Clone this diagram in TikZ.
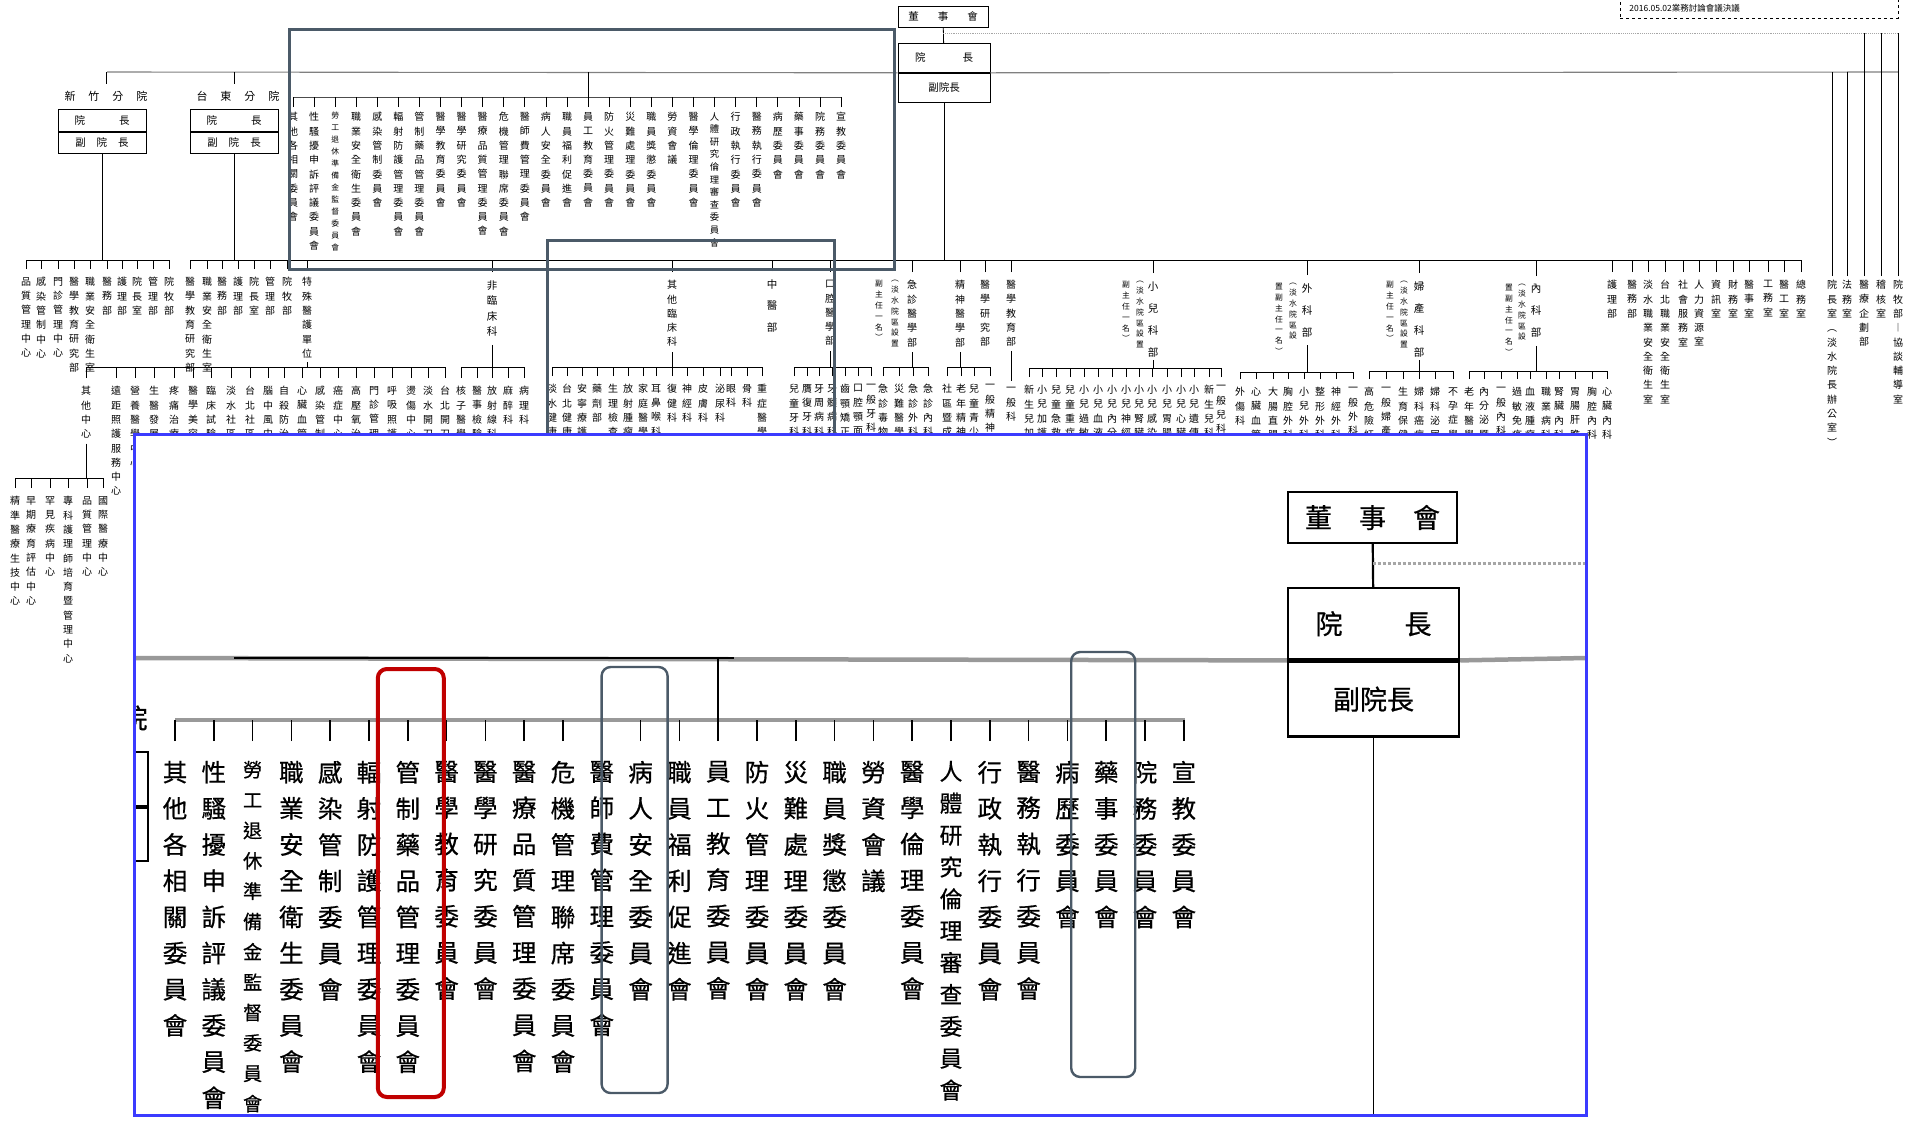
\documentclass[tikz,border=0pt]{standalone}
\usepackage{fontspec}
\setmainfont{Noto Sans CJK TC}
\newfontfamily\zoomfont[FakeBold=0.6]{Noto Sans CJK TC}
\usetikzlibrary{calc}
\definecolor{slate}{HTML}{4B5A68}
\definecolor{zoomblue}{HTML}{3B3BFF}
\definecolor{markred}{HTML}{C00000}
\def\vtaux#1#2{#1\ifx\relax#2\expandafter\vtstop\else\expandafter\vtgo\fi{#2}}
\def\vtstop#1{}
\def\vtgo#1{\\\vtaux#1}
\newcommand\vt[1]{\expandafter\vtaux#1\relax}
\newcommand\cmtlist{%
其他各相關委員會/10/14.3,性騷擾申訴評議委員會/10/14.3,勞工退休準備金監督委員會/7.8/12,%
職業安全衛生委員會/10/14.3,感染管制委員會/10/14.3,輻射防護管理委員會/10/14.3,%
管制藥品管理委員會/10/14.3,醫學教育委員會/10/14.3,醫學研究委員會/10/14.3,%
醫療品質管理委員會/10/14.3,危機管理聯席委員會/10/14.3,醫師費管理委員會/10/14.3,%
病人安全委員會/10/14.3,職員福利促進會/10/14.3,員工教育委員會/10/14.3,%
防火管理委員會/10/14.3,災難處理委員會/10/14.3,職員獎懲委員會/10/14.3,%
勞資會議/10/14.3,醫學倫理委員會/10/14.3,人體研究倫理審查委員會/9.3/12.6,%
行政執行委員會/10/14.3,醫務執行委員會/10/14.3,病歷委員會/10/14.3,%
藥事委員會/10/14.3,院務委員會/10/14.3,宣教委員會/10/14.3}

\begin{document}
\begin{tikzpicture}[x=1pt,y=-1pt,line width=0.8pt,
  lab/.style={anchor=north,align=center,inner sep=0pt,font=\fontsize{10}{14.3}\selectfont},
  wide/.style={lab,font=\fontsize{10.5}{22}\selectfont},
  note/.style={lab,font=\fontsize{7.8}{10.8}\selectfont},
  box/.style={draw,line width=0.8pt,inner sep=0pt,font=\fontsize{10.5}{12}\selectfont},
  drop/.style={shorten <=#1},drop/.default=8pt,
  steel/.style={draw=slate,line width=3pt},
  grayline/.style={line width=1.1pt,black!50},
  dotline/.style={line width=0.9pt,black!35,densely dotted},
  bbox/.style={draw,line width=2.4pt,inner sep=0pt,font=\zoomfont\fontsize{27}{30}\selectfont},
  blab/.style={anchor=north,align=center,inner sep=0pt},
  igray/.style={line width=4.5pt,black!40},
  idot/.style={line width=3pt,black!35,dotted},
  hilite/.style={line width=2.4pt,slate,rounded corners=9pt}]
\useasboundingbox (0,0) rectangle (1921,1120);

\node[draw,dashed,minimum width=278,minimum height=24,inner sep=0pt] (date) at (1759,6) {};
\node[font=\fontsize{8.5}{10}\selectfont,anchor=west,inner sep=0pt] (datetx) at (1629,8) {2016.05.02業務討論會議決議};

\coordinate (dotR) at (1898,33);
\coordinate (grayL) at (107,72);
\coordinate (grayR) at (1898,72);
\coordinate (mainL) at (190,260);
\coordinate (mainR) at (1802,260);

\node[box,minimum width=90,minimum height=21] (brd) at (943,16.5) {董\hspace{19pt}事\hspace{19pt}會};
\node[box,minimum width=92,minimum height=29,anchor=north] (pres) at (944,43) {院\hspace{37pt}長};
\node[box,minimum width=92,minimum height=29,anchor=north] (vp) at (pres.south) {副院長};
\draw (brd) -- (pres);
\draw[dotline] (brd.south |- dotR) -- (dotR);
\draw[grayline] (grayL) -- (pres.south west);
\draw[grayline] (pres.south east) -- (grayR);
\draw (vp) -- (vp.south |- mainL);
\draw (mainL) -- (mainR);

% branch hospitals
\node[font=\fontsize{11}{12}\selectfont,inner sep=0pt] (hcn) at (106,96) {新\hspace{13pt}竹\hspace{13pt}分\hspace{13pt}院};
\node[box,minimum width=88,minimum height=22,anchor=north] (hcb1) at (102,109) {院\hspace{34pt}長};
\node[box,minimum width=88,minimum height=21,anchor=north] (hcb2) at (hcb1.south) {副\hspace{11pt}院\hspace{11pt}長};
\draw[shorten >=6pt] (hcn.north |- grayL) -- (hcn.north);
\coordinate (hcL) at (26,260);
\coordinate (hcR) at (169,260);
\draw (hcb2) -- (hcb2.south |- hcL);
\draw (hcL) -- (hcR);
\foreach \x/\lab [count=\n] in {26/品質管理中心,41/感染管制中心,58/門診管理中心,74/醫學教育研究部,90/職業安全衛生室,107/醫務部,122/護理部,137/院長室,153/管理部,169/院牧部}
  {\node[lab] (hcu\n) at (\x,277) {\vt\lab};
   \draw[drop] (hcu\n.north) -- (hcu\n.north |- hcL);}

\node[font=\fontsize{11}{12}\selectfont,inner sep=0pt] (tdn) at (238,96) {台\hspace{13pt}東\hspace{13pt}分\hspace{13pt}院};
\node[box,minimum width=88,minimum height=22,anchor=north] (tdb1) at (234,109) {院\hspace{34pt}長};
\node[box,minimum width=88,minimum height=21,anchor=north] (tdb2) at (tdb1.south) {副\hspace{11pt}院\hspace{11pt}長};
\draw[shorten >=6pt] (tdb1.north |- grayL) -- (tdb1.north |- tdn.north);
\draw (tdb2) -- (tdb2.south |- mainL);
\foreach \x/\lab [count=\n] in {190/醫學教育研究部,207/職業安全衛生室,222/醫務部,238/護理部,254/院長室,270/管理部,287/院牧部}
  {\node[lab] (tdu\n) at (\x,277) {\vt\lab};
   \draw[drop] (tdu\n.north) -- (tdu\n.north |- mainL);}

% committees
\coordinate (cbL) at (293,97);
\coordinate (cbR) at (841,97);
\draw[black!70] (cbL) -- (cbR);
\foreach \lab/\fs/\ls [count=\n] in \cmtlist
  {\node[lab,font=\fontsize{\fs}{\ls}\selectfont] (c\n) at ({293+21.08*(\n-1)},112) {\vt\lab};
   \draw[drop=5pt] (c\n.north) -- (c\n.north |- cbL);}
\draw (c15.north |- grayL) -- (c15.north |- cbL);

% special units
\node[lab] (spc) at (307,277) {\vt{特殊醫護單位}};
\draw[drop] (spc.north) -- (spc.north |- mainL);
\coordinate (spcL) at (86,367);
\coordinate (spcR) at (445,367);
\draw[shorten <=4pt] (spc.south) -- (spc.south |- spcL);
\draw (spcL) -- (spcR);
\foreach \x/\lab [count=\n] in {86/其他中心,116/遠距照護服務中心,135/營養醫學中心,154/生醫發展中心,174/疼痛治療中心,193/醫學美容中心,211/臨床試驗中心,231/淡水社區醫學中心,250/台北社區醫學中心,268/腦中風中心,284/自殺防治中心,302/心臟血管中心,320/感染管制中心,338/癌症中心,356/高壓氧治療中心,374/門診管理中心,392/呼吸照護中心,411/燙傷中心,428/淡水開刀房,445/台北開刀房}
  {\node[lab] (spc\n) at (\x,386) {\vt\lab};
   \draw[drop] (spc\n.north) -- (spc\n.north |- spcL);}
\coordinate (othL) at (15,478);
\coordinate (othR) at (103,478);
\draw[shorten <=5pt] (spc1.south) -- (spc1.south |- othL);
\draw (othL) -- (othR);
\foreach \x/\lab [count=\n] in {15/精準醫療生技中心,31/早期療育評估中心,50/罕見疾病中心,68/專科護理師培育暨管理中心,87/品質管理中心,103/國際醫療中心}
  {\node[lab] (oth\n) at (\x,496) {\vt\lab};
   \draw[drop] (oth\n.north) -- (oth\n.north |- othL);}

% clinical departments
\node[lab,font=\fontsize{10.5}{15.5}\selectfont] (ncl) at (492,280) {\vt{非臨床科}};
\draw[drop] (ncl.north) -- (ncl.north |- mainL);
\coordinate (nclL) at (461,367);
\coordinate (nclR) at (524,367);
\draw[shorten <=8pt] (ncl.south) -- (ncl.south |- nclL);
\draw (nclL) -- (nclR);
\foreach \x/\lab [count=\n] in {461/核子醫學科,477/醫事檢驗科,492/放射線科,508/麻醉科,524/病理科}
  {\node[lab] (ncl\n) at (\x,386) {\vt\lab};
   \draw[drop] (ncl\n.north) -- (ncl\n.north |- nclL);}

\node[lab] (ocl) at (672,280) {\vt{其他臨床科}};
\draw[drop] (ocl.north) -- (ocl.north |- mainL);
\coordinate (oclL) at (552,367);
\coordinate (oclR) at (762,367);
\draw[shorten <=5pt] (ocl.south) -- (ocl.south |- oclL);
\draw (oclL) -- (oclR);
\foreach \x/\lab [count=\n] in {552/淡水健康管理中心,567/台北健康管理中心,582/安寧療護中心,597/藥劑部,613/生理檢查科,628/放射腫瘤科,643/家庭醫學科,656/耳鼻喉科,672/復健科,687/神經科,703/皮膚科,720/泌尿科,731/眼科,747/骨科,762/重症醫學科}
  {\node[lab] (ocl\n) at (\x,384) {\vt\lab};
   \draw[drop] (ocl\n.north) -- (ocl\n.north |- oclL);}

\node[lab,font=\fontsize{10.5}{21.5}\selectfont] (tcm) at (772,279) {\vt{中醫部}};
\draw[drop] (tcm.north) -- (tcm.north |- mainL);

\node[lab] (dnt) at (830,280) {\vt{口腔醫學部}};
\draw[drop] (dnt.north) -- (dnt.north |- mainL);
\coordinate (dntL) at (794,367);
\coordinate (dntR) at (871,367);
\draw[shorten <=5pt] (dnt.south) -- (dnt.south |- dntL);
\draw (dntL) -- (dntR);
\foreach \x/\lab [count=\n] in {794/兒童牙科,807/贋復牙科,819/牙周病科,832/牙髓病科,845/齒顎矯正科,858/口腔顎面外科,871/一般牙科}
  {\node[lab] (dnt\n) at (\x,384) {\vt\lab};
   \draw[drop] (dnt\n.north) -- (dnt\n.north |- dntL);}

\node[lab] (emg) at (912,280) {\vt{急診醫學部}};
\node[note] (emgn1) at (895,280) {\vt{︵淡水院區設置}};
\node[note] (emgn2) at (879,280) {\vt{副主任一名︶}};
\draw[drop] (emg.north) -- (emg.north |- mainL);
\coordinate (emgL) at (883,367);
\coordinate (emgR) at (928,367);
\draw[shorten <=5pt] (emg.south) -- (emg.south |- emgL);
\draw (emgL) -- (emgR);
\foreach \x/\lab [count=\n] in {883/急診毒物科,899/災難醫學科,913/急診外科,928/急診內科}
  {\node[lab] (emg\n) at (\x,384) {\vt\lab};
   \draw[drop] (emg\n.north) -- (emg\n.north |- emgL);}

\node[lab] (psy) at (960,280) {\vt{精神醫學部}};
\draw[drop] (psy.north) -- (psy.north |- mainL);
\coordinate (psyL) at (947,367);
\coordinate (psyR) at (990,367);
\draw[shorten <=5pt] (psy.south) -- (psy.south |- psyL);
\draw (psyL) -- (psyR);
\foreach \x/\lab [count=\n] in {947/社區暨成人精神科,961/老年精神科,974/兒童青少年精神科,990/一般精神科}
  {\node[lab] (psy\n) at (\x,384) {\vt\lab};
   \draw[drop] (psy\n.north) -- (psy\n.north |- psyL);}

\node[lab] (mrs) at (985,280) {\vt{醫學研究部}};
\draw[drop] (mrs.north) -- (mrs.north |- mainL);
\node[lab] (med) at (1011,280) {\vt{醫學教育部}};
\draw[drop] (med.north) -- (med.north |- mainL);
\node[lab] (gen) at (1011,387) {\vt{一般科}};
\draw[shorten <=4pt,shorten >=6pt] (med.south) -- (gen.north);

\node[wide] (ped) at (1153,281) {\vt{小兒科部}};
\node[note] (pedn1) at (1140,281) {\vt{︵淡水院區設置}};
\node[note] (pedn2) at (1126,281) {\vt{副主任一名︶}};
\draw[drop] (ped.north) -- (ped.north |- mainL);
\coordinate (pedL) at (1029,368);
\coordinate (pedR) at (1221,368);
\draw[shorten <=3pt] (ped.south) -- (ped.south |- pedL);
\draw (pedL) -- (pedR);
\foreach \x/\lab [count=\n] in {1029/新生兒加護科,1042/小兒加護科,1056/兒童急救科,1070/兒童重症科,1084/小兒過敏科,1098/小兒血液腫瘤科,1112/小兒內分泌科,1126/小兒神經科,1139/小兒腎臟科,1152/小兒感染科,1167/小兒胃腸科,1181/小兒心臟科,1194/小兒遺傳科,1209/新生兒科,1221/一般兒科}
  {\node[lab] (ped\n) at (\x,385) {\vt\lab};
   \draw[drop] (ped\n.north) -- (ped\n.north |- pedL);}

\node[wide] (sur) at (1307,283) {\vt{外科部}};
\node[note] (surn1) at (1293,283) {\vt{︵淡水院區設}};
\node[note] (surn2) at (1279,283) {\vt{置副主任一名︶}};
\draw[drop] (sur.north) -- (sur.north |- mainL);
\coordinate (surL) at (1240,372);
\coordinate (surR) at (1353,372);
\draw[shorten <=8pt] (sur.south) -- (sur.south |- surL);
\draw (surL) -- (surR);
\foreach \x/\lab [count=\n] in {1240/外傷科,1256/心臟血管外科,1273/大腸直腸外科,1288/胸腔外科,1304/小兒外科,1320/整形外科,1336/神經外科,1353/一般外科}
  {\node[lab] (sur\n) at (\x,387) {\vt\lab};
   \draw[drop] (sur\n.north) -- (sur\n.north |- surL);}

\node[wide] (obg) at (1419,281) {\vt{婦產科部}};
\node[note] (obgn1) at (1404,281) {\vt{︵淡水院區設置}};
\node[note] (obgn2) at (1390,281) {\vt{副主任一名︶}};
\draw[drop] (obg.north) -- (obg.north |- mainL);
\coordinate (obgL) at (1369,371);
\coordinate (obgR) at (1453,371);
\draw[shorten <=3pt] (obg.south) -- (obg.south |- obgL);
\draw (obgL) -- (obgR);
\foreach \x/\lab [count=\n] in {1369/高危險妊娠科,1386/一般婦產科,1403/生育保健科,1419/婦科癌症科,1435/婦科泌尿科,1453/不孕症學科}
  {\node[lab] (obg\n) at (\x,387) {\vt\lab};
   \draw[drop] (obg\n.north) -- (obg\n.north |- obgL);}

\node[wide] (imd) at (1536,284) {\vt{內科部}};
\node[note] (imdn1) at (1522,284) {\vt{︵淡水院區設}};
\node[note] (imdn2) at (1509,284) {\vt{置副主任一名︶}};
\draw[drop] (imd.north) -- (imd.north |- mainL);
\coordinate (imdL) at (1469,371);
\coordinate (imdR) at (1607,371);
\draw[shorten <=8pt] (imd.south) -- (imd.south |- imdL);
\draw (imdL) -- (imdR);
\foreach \x/\lab [count=\n] in {1469/老年醫學科,1484/內分泌暨新陳代謝科,1501/一般內科,1517/過敏免疫風濕科,1530/血液腫瘤科,1546/職業病科,1559/腎臟內科,1575/胃腸肝膽科,1592/胸腔內科,1607/心臟內科}
  {\node[lab] (imd\n) at (\x,387) {\vt\lab};
   \draw[drop] (imd\n.north) -- (imd\n.north |- imdL);}

% administration
\foreach \x/\lab in {1612/護理部,1632/醫務部,1648/淡水職業安全衛生室,1665/台北職業安全衛生室,1683/社會服務室,1699/人力資源室,1716/資訊室,1733/財務室,1749/醫事室,1768/工務室,1784/醫工室,1801/總務室}
  {\node[lab] (a\x) at (\x,280) {\vt\lab};
   \draw[drop] (a\x.north) -- (a\x.north |- mainL);}
\foreach \x/\lab/\top in {1832/院長室︵淡水院長辦公室︶/grayR,1847/法務室/grayR,1864/醫療企劃部/dotR,1881/稽核室/dotR,1898/院牧部︱協談輔導室/dotR}
  {\node[lab] (r\x) at (\x,280) {\vt\lab};
   \draw[shorten <=4pt] (r\x.north) -- (r\x.north |- \top);}

\draw[steel] (289,29) rectangle (894,269);
\draw[steel] (547,240) rectangle (834,470);

% magnified view
\node[fill=white,inner sep=0pt,minimum width=1451,minimum height=680] (zoom) at (860.5,775) {};
\begin{scope}[line width=1.8pt]
\clip (zoom.south west) rectangle (zoom.north east);
\coordinate (igL) at (135,658);
\coordinate (igR) at (1586,658);
\coordinate (ibkL) at (234,658);
\coordinate (ibkR) at (734,658);
\coordinate (ibL) at (175,720);
\coordinate (ibR) at (1185,720);
\coordinate (idotR) at (1586,563);
\node[bbox,minimum width=169,minimum height=51] (ibrd) at (1372.5,517.5) {董\hspace{27pt}事\hspace{27pt}會};
\node[bbox,minimum width=171,minimum height=71,anchor=north] (ipres) at (1373.5,587) {院\hspace{62pt}長};
\node[bbox,minimum width=171,minimum height=75,anchor=north] (ivp) at (ipres.south) {副院長};
\draw[line width=2.2pt] (ibrd) -- (ipres);
\draw[idot] (ibrd.south |- idotR) -- (idotR);
\draw[igray] (igL) -- (ipres.south west);
\draw[igray] (ipres.south east) -- (igR);
\draw[line width=2.6pt] (ibkL) -- (ibkR);
\draw (ivp) -- (ivp.south |- zoom.south);
\node[bbox,minimum width=163,minimum height=54,anchor=south east] (itd1) at (149,807) {};
\node[bbox,minimum width=163,minimum height=53,anchor=north east] (itd2) at (149,807) {};
\node[inner sep=0pt,font=\zoomfont\fontsize{27}{30}\selectfont] (itdn) at (134,718) {院};
\draw[igray] (ibL) -- (ibR);
\foreach \lab/\fs/\ls [count=\n, evaluate=\fs as \bfs using \fs*2.45, evaluate=\ls as \bls using \ls*2.53] in \cmtlist
  {\node[blab,font=\zoomfont\fontsize{\bfs}{\bls}\selectfont] (b\n) at ({175+38.8*(\n-1)},760) {\vt\lab};
   \draw[shorten <=19pt,line width=1.6pt] (b\n.north) -- (b\n.north |- ibL);}
\draw (b15.north |- ibkL) -- (b15.north |- ibL);
\draw[markred,line width=4pt,rounded corners=9pt] ($(b7.north)+(-30,-91)$) rectangle ($(b7.north)+(36,337)$);
\draw[hilite] ($(b13.north)+(-39,-93)$) rectangle ($(b13.north)+(27,333)$);
\draw[hilite] ($(b25.north)+(-35,-108)$) rectangle ($(b25.north)+(29,317)$);
\end{scope}
\draw[zoomblue,line width=2.5pt] (zoom.south west) rectangle (zoom.north east);
\end{tikzpicture}
\end{document}
